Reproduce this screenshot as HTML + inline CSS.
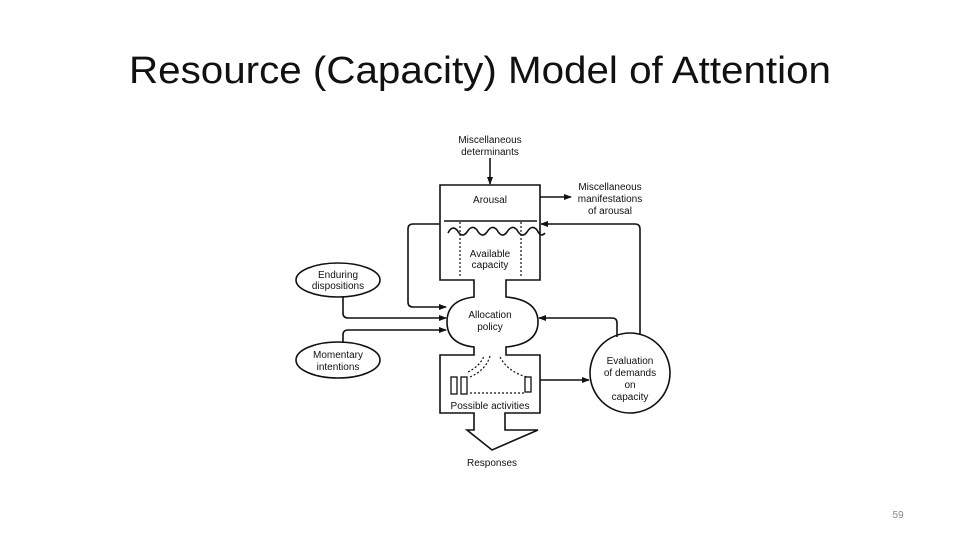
<!DOCTYPE html>
<html><head><meta charset="utf-8"><style>body{margin:0;background:#fff}svg{display:block}</style></head><body>
<svg width="960" height="540" viewBox="0 0 960 540" xmlns="http://www.w3.org/2000/svg" font-family="Liberation Sans, sans-serif">
<defs><marker id="a" markerWidth="8" markerHeight="8" refX="7" refY="4" orient="auto" markerUnits="userSpaceOnUse"><path d="M0,1 L8,4 L0,7 z" fill="#111"/></marker></defs>
<text x="480" y="83" font-size="38" text-anchor="middle" textLength="702" lengthAdjust="spacingAndGlyphs" fill="#111">Resource (Capacity) Model of Attention</text>
<text x="898" y="518" font-size="10" fill="#888" text-anchor="middle">59</text>
<g stroke="#111" stroke-width="1.6" fill="none">
<path d="M440,185 H540 V280 H506 V297 Q538,300 538,322 Q538,344 506,347 V355 H540 V413 H505 V430 H538 L492,450 L467,430 H474 V413 H440 V355 H474 V347 Q447,344 447,322 Q447,300 474,297 V280 H440 Z" fill="#fff"/>
<line x1="444" y1="221" x2="537" y2="221"/>
<path d="M448,233 q4,-8 9,-3 q5,9 10,2 q5,-8 10,-2 q5,9 10,2 q5,-8 10,-2 q5,9 10,2 q5,-8 10,-2 q5,9 10,2 q5,-8 10,-2 q4,8 8,3"/>
<line x1="460" y1="222" x2="460" y2="277" stroke-dasharray="2,2" stroke-width="1.2"/>
<line x1="521" y1="222" x2="521" y2="277" stroke-dasharray="2,2" stroke-width="1.2"/>
<rect x="451" y="377" width="6" height="17" stroke-width="1.3"/>
<rect x="461" y="377" width="6" height="17" stroke-width="1.3"/>
<rect x="525" y="377" width="6" height="15" stroke-width="1.3"/>
<line x1="470" y1="393" x2="524" y2="393" stroke-dasharray="2,2" stroke-width="1.2"/>
<path d="M468,372 Q480,366 484,356" stroke-dasharray="2,2" stroke-width="1.2"/>
<path d="M470,377 Q486,370 490,356" stroke-dasharray="2,2" stroke-width="1.2"/>
<path d="M500,357 Q508,372 527,377" stroke-dasharray="2,2" stroke-width="1.2"/>
<ellipse cx="338" cy="280" rx="42" ry="17" fill="#fff"/>
<ellipse cx="338" cy="360" rx="42" ry="18" fill="#fff"/>
<circle cx="630" cy="373" r="40" fill="#fff"/>
<path d="M490,158 V184" marker-end="url(#a)"/>
<path d="M540,197 H571" marker-end="url(#a)"/>
<path d="M440,224 H413 Q408,224 408,229 V302 Q408,307 413,307 H446" marker-end="url(#a)"/>
<path d="M343,297 V313 Q343,318 348,318 H446" marker-end="url(#a)"/>
<path d="M343,342 V335 Q343,330 348,330 H446" marker-end="url(#a)"/>
<path d="M617,337 V323 Q617,318 612,318 H539" marker-end="url(#a)"/>
<path d="M640,335 V229 Q640,224 635,224 H541" marker-end="url(#a)"/>
<path d="M540,380 H589" marker-end="url(#a)"/>
</g>
<g font-size="10" fill="#111" text-anchor="middle">
<text x="490" y="143">Miscellaneous</text><text x="490" y="155">determinants</text>
<text x="490" y="203">Arousal</text>
<text x="610" y="190">Miscellaneous</text><text x="610" y="202">manifestations</text><text x="610" y="214">of arousal</text>
<text x="490" y="257">Available</text><text x="490" y="268">capacity</text>
<text x="338" y="278">Enduring</text><text x="338" y="289">dispositions</text>
<text x="490" y="318">Allocation</text><text x="490" y="330">policy</text>
<text x="338" y="358">Momentary</text><text x="338" y="370">intentions</text>
<text x="630" y="364">Evaluation</text><text x="630" y="376">of demands</text><text x="630" y="388">on</text><text x="630" y="400">capacity</text>
<text x="490" y="409">Possible activities</text>
<text x="492" y="466">Responses</text>
</g>
</svg>
</body></html>
